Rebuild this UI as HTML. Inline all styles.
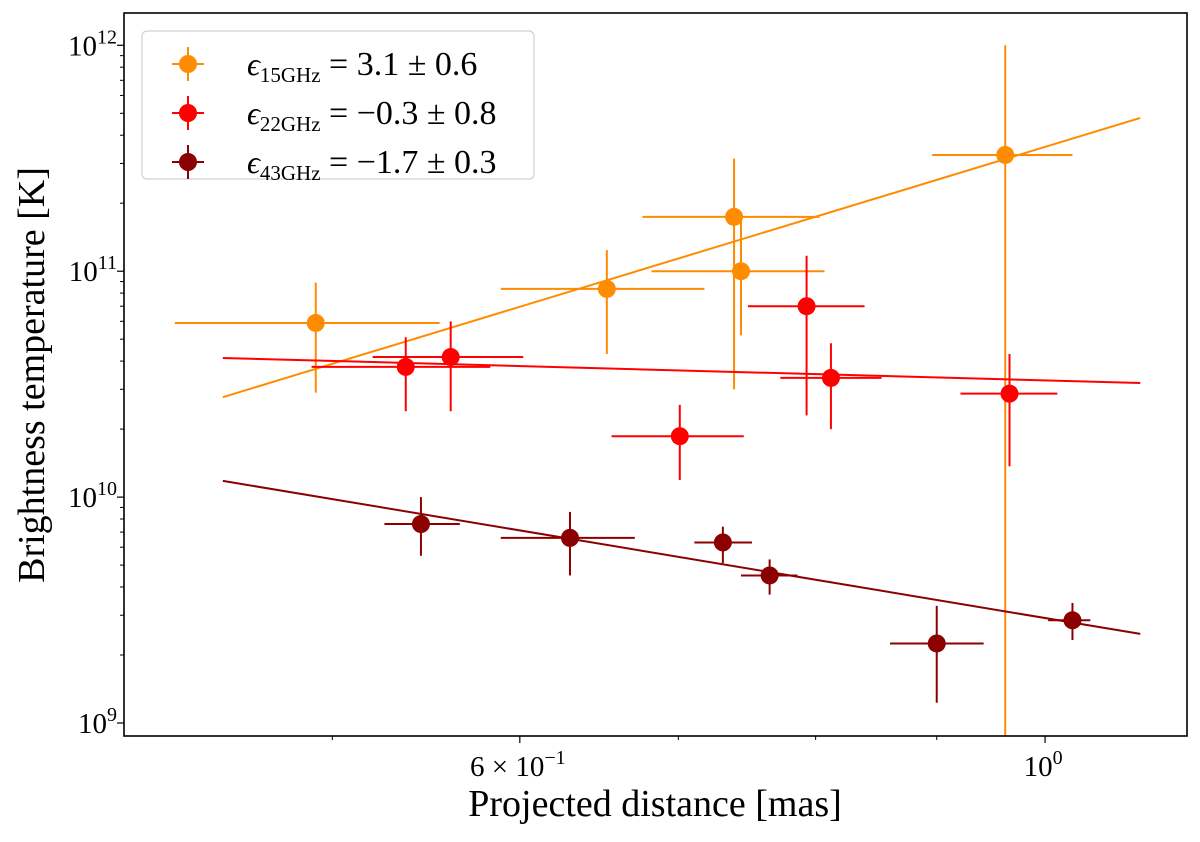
<!DOCTYPE html>
<html><head><meta charset="utf-8"><style>
body{margin:0;background:#fff}
svg text{font-family:"Liberation Serif",serif;fill:#000}
</style></head><body>
<svg id="chart" width="1200" height="837" viewBox="0 0 1200 837" xmlns="http://www.w3.org/2000/svg">
<g id="plot"></g>
<rect x="124" y="13" width="1063" height="723" fill="none" stroke="#000" stroke-width="1.6"/>
<g id="axes"></g>
<text x="655" y="816" font-size="38" text-anchor="middle">Projected distance [mas]</text>
<text transform="translate(44,375) rotate(-90)" font-size="38" text-anchor="middle">Brightness temperature [K]</text>
<g>
<rect x="142" y="31" width="392" height="148" rx="5" fill="#fff" stroke="#ccc" stroke-width="1.2" opacity="0.9"/>
<g id="legend-items"></g>
</g>
</svg>
<script>
const NS="http://www.w3.org/2000/svg";
const xLo=0.4083,xHi=1.148,yLo=8.76e8,yHi=1.39e12;
const L=124,R=1187,T=13,B=736;
const xs=v=>L+(Math.log10(v)-Math.log10(xLo))/(Math.log10(xHi)-Math.log10(xLo))*(R-L);
const ys=v=>B-(Math.log10(v)-Math.log10(yLo))/(Math.log10(yHi)-Math.log10(yLo))*(B-T);

const seriesNames=["15GHz","22GHz","43GHz"];
const seriesColors=["#ff8c00","#ff0000","#8b0000"];
const legendLabels=["3.1 \u00b1 0.6","\u22120.3 \u00b1 0.8","\u22121.7 \u00b1 0.3"];
const xVals=[[0.492,0.653,0.739,0.744,0.962],[0.537,0.561,0.701,0.793,0.812,0.966],[0.545,0.630,0.731,0.765,0.900,1.027]];
const xLow=[[0.429,0.589,0.676,0.682,0.896],[0.490,0.520,0.656,0.749,0.773,0.921],[0.526,0.589,0.711,0.744,0.860,1.003]];
const xHigh=[[0.555,0.718,0.803,0.807,1.027],[0.583,0.602,0.746,0.839,0.853,1.012],[0.566,0.671,0.752,0.786,0.942,1.045]];
const yVals=[[5.9e10,8.35e10,1.74e11,1.0e11,3.27e11],[3.77e10,4.17e10,1.86e10,7.0e10,3.37e10,2.87e10],[7.6e9,6.6e9,6.3e9,4.5e9,2.25e9,2.85e9]];
const yLow=[[2.9e10,4.3e10,3.0e10,5.2e10,5e8],[2.4e10,2.4e10,1.19e10,2.3e10,2.0e10,1.37e10],[5.5e9,4.5e9,5.1e9,3.7e9,1.23e9,2.33e9]];
const yHigh=[[8.9e10,1.24e11,3.15e11,1.7e11,1.0e12],[5.1e10,6.0e10,2.56e10,1.17e11,4.8e10,4.3e10],[1.0e10,8.6e9,7.4e9,5.3e9,3.3e9,3.4e9]];
const fitX=[0.4495,1.097];
const fitY=[[2.77e10,4.77e11],[4.13e10,3.2e10],[1.18e10,2.48e9]];
const xTickVals=[0.6,1.0];
const xTickLabels=["6 \u00d7 10","10"];
const xTickExps=["\u22121","0"];
const xMinorVals=[0.5,0.7,0.8,0.9];
const yTickExps=[9,10,11,12];

const plot=document.getElementById('plot'),axes=document.getElementById('axes');
function mk(tag,attrs,parent){const e=document.createElementNS(NS,tag);for(const k in attrs)e.setAttribute(k,attrs[k]);parent.appendChild(e);return e;}
const clip=mk('clipPath',{id:'clp'},plot);mk('rect',{x:L,y:T,width:R-L,height:B-T},clip);
const g=mk('g',{'clip-path':'url(#clp)'},plot);
seriesNames.forEach((s,i)=>{
  const c=seriesColors[i];
  const f=mk('line',{x1:xs(fitX[0]),y1:ys(fitY[i][0]),x2:xs(fitX[1]),y2:ys(fitY[i][1]),stroke:c,'stroke-width':2},g);
  
  
  xVals[i].forEach((x,j)=>{
    const pg=mk('g',{},g);
    
    
    const y=yVals[i][j];
    mk('line',{x1:xs(xLow[i][j]),x2:xs(xHigh[i][j]),y1:ys(y),y2:ys(y),stroke:c,'stroke-width':2},pg);
    mk('line',{x1:xs(x),x2:xs(x),y1:ys(yLow[i][j]),y2:ys(yHigh[i][j]),stroke:c,'stroke-width':2},pg);
    mk('circle',{cx:xs(x),cy:ys(y),r:9,fill:c},pg);
  });
});
xTickVals.forEach((v,i)=>{
  const x=xs(v);
  mk('line',{x1:x,x2:x,y1:B,y2:B+7,stroke:'#000','stroke-width':1.2},axes);
  const t=mk('text',{x:x-2,y:B+40,'font-size':29,'text-anchor':'middle'},axes);
  
  
  t.textContent=xTickLabels[i];
  const ts=mk('tspan',{dy:-12,'font-size':20},t);ts.textContent=xTickExps[i];
});
xMinorVals.forEach(v=>{const x=xs(v);mk('line',{x1:x,x2:x,y1:B,y2:B+4,stroke:'#000','stroke-width':1},axes);});
yTickExps.forEach(e=>{
  const y=ys(Math.pow(10,e));
  mk('line',{x1:L-7,x2:L,y1:y,y2:y,stroke:'#000','stroke-width':1.2},axes);
  const t=mk('text',{x:L-7,y:y+10,'font-size':29,'text-anchor':'end'},axes);
  
  
  t.textContent='10';
  const ts=mk('tspan',{dy:-12,'font-size':20},t);ts.textContent=String(e);
  for(let m=2;m<10;m++){const v=m*Math.pow(10,e);if(v<yHi&&v>yLo){const yy=ys(v);mk('line',{x1:L-4,x2:L,y1:yy,y2:yy,stroke:'#000','stroke-width':1},axes);}}
});
const li=document.getElementById('legend-items');
seriesNames.forEach((s,i)=>{
  const y=64+i*49,c=seriesColors[i];
  const eg=mk('g',{},li);
  
  
  mk('line',{x1:172,x2:204,y1:y,y2:y,stroke:c,'stroke-width':2},eg);
  mk('line',{x1:188,x2:188,y1:y-17,y2:y+17,stroke:c,'stroke-width':2},eg);
  mk('circle',{cx:188,cy:y,r:9,fill:c},eg);
  const t=mk('text',{x:247,y:y+11,'font-size':32,'font-style':'italic'},eg);
  t.textContent='\u03f5';
  const sub=mk('tspan',{dy:7,'font-size':21,'font-style':'normal'},t);sub.textContent=s;
  const rest=mk('tspan',{dy:-7,'font-size':34,'font-style':'normal'},t);rest.textContent=' = '+legendLabels[i];
});
</script>
</body></html>
